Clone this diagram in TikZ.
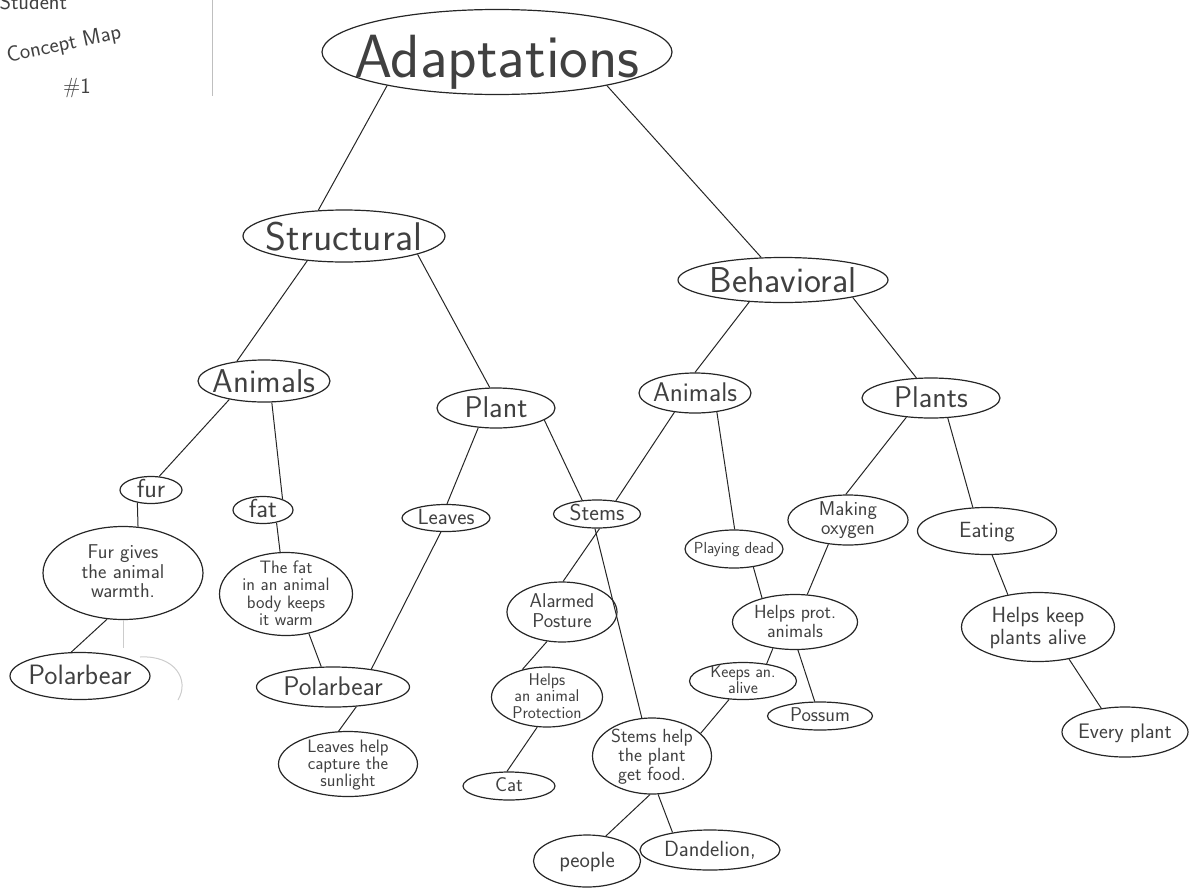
\documentclass[tikz,border=0pt]{standalone}
\usetikzlibrary{shapes.geometric}

% text sits in a zero size box, so the ellipse keeps the size given to it
\newcommand{\handtext}[1]{\makebox[0pt]{\smash{\raisebox{-0.32em}{\begin{tabular}{@{}c@{}}#1\end{tabular}}}}}
\newcommand{\handfont}[2]{\fontsize{#1}{#2}\sffamily\selectfont}

\tikzset{
  bubble/.style 2 args={ellipse, draw=black!85, line width=1.2pt, inner sep=0pt,
    minimum width=#1, minimum height=#2, text=black!75},
  link/.style={draw=black!85, line width=1pt},
}

\begin{document}
\begin{tikzpicture}[x=1pt, y=-1pt]
  \useasboundingbox (0,0) rectangle (1191,889);
  \clip (0,0) rectangle (1191,889);

  % header in the corner
  \node[anchor=base west, text=black!75, font=\handfont{22}{24}] (student) at (-4,9) {Student};
  \node[rotate=12, text=black!75, font=\handfont{22}{24}] (title) at (64,45) {Concept Map};
  \node[text=black!75, font=\handfont{22}{24}] (num) at (77,88) {\#1};
  \draw[black!25, line width=1pt] (212,0) -- (212,96);

  % top levels
  \node[bubble={350}{85}, font=\handfont{61}{63}] (adapt) at (497,52) {\handtext{Adaptations}};
  \node[bubble={202}{52}, font=\handfont{40}{42}] (struct) at (344,236) {\handtext{Structural}};
  \node[bubble={210}{45}, font=\handfont{36}{38}] (behav) at (783,280) {\handtext{Behavioral}};
  \node[bubble={132}{42}, font=\handfont{33}{35}] (sanim) at (264,381) {\handtext{Animals}};
  \node[bubble={118}{40}, font=\handfont{30}{32}] (splant) at (496,408) {\handtext{Plant}};
  \node[bubble={112}{40}, font=\handfont{27}{29}] (banim) at (695,393) {\handtext{Animals}};
  \node[bubble={138}{40}, font=\handfont{30}{32}] (bplant) at (931,398) {\handtext{Plants}};

  % third level
  \node[bubble={62}{27}, font=\handfont{26}{28}] (fur) at (151,490) {\handtext{fur}};
  \node[bubble={60}{27}, font=\handfont{26}{28}] (fat) at (263,510) {\handtext{fat}};
  \node[bubble={88}{27}, font=\handfont{22}{24}] (leaves) at (446,518) {\handtext{Leaves}};
  \node[bubble={87}{28}, font=\handfont{23}{25}] (stems) at (597,514) {\handtext{Stems}};
  \node[bubble={120}{50}, font=\handfont{20}{19}] (oxygen) at (848,520) {\handtext{Making\\oxygen}};
  \node[bubble={139}{47}, font=\handfont{22}{24}] (eating) at (987,531) {\handtext{Eating}};

  % sentences and examples
  \node[bubble={160}{93}, font=\handfont{20}{19}] (furwarm) at (123,573) {\handtext{Fur gives\\the animal\\warmth.}};
  \node[bubble={133}{83}, font=\handfont{18}{17}] (fatwarm) at (286,594) {\handtext{The fat\\in an animal\\body keeps\\it warm}};
  \node[bubble={98}{38}, font=\handfont{16}{18}] (dead) at (734,549) {\handtext{Playing dead}};
  \node[bubble={110}{60}, font=\handfont{20}{19}] (alarm) at (562,612) {\handtext{Alarmed\\Posture}};
  \node[bubble={125}{55}, font=\handfont{19}{19}] (protect) at (795,622) {\handtext{Helps prot.\\animals}};
  \node[bubble={107}{37}, font=\handfont{17}{16}] (keeps) at (743,681) {\handtext{Keeps an.\\alive}};
  \node[bubble={153}{69}, font=\handfont{22}{21}] (keepplants) at (1038,627) {\handtext{Helps keep\\plants alive}};
  \node[bubble={140}{47}, font=\handfont{28}{30}] (bear1) at (80,676) {\handtext{Polarbear}};
  \node[bubble={153}{40}, font=\handfont{27}{29}] (bear2) at (333,687) {\handtext{Polarbear}};
  \node[bubble={111}{60}, font=\handfont{17}{16}] (helpsanim) at (547,697) {\handtext{Helps\\an animal\\Protection}};
  \node[bubble={105}{28}, font=\handfont{20}{22}] (possum) at (820,716) {\handtext{Possum}};
  \node[bubble={139}{65}, font=\handfont{18}{16}] (sunlight) at (348,764) {\handtext{Leaves help\\capture the\\sunlight}};
  \node[bubble={119}{76}, font=\handfont{19}{19}] (stemfood) at (652,756) {\handtext{Stems help\\the plant\\get food.}};
  \node[bubble={126}{50}, font=\handfont{21}{23}] (every) at (1125,732) {\handtext{Every plant}};
  \node[bubble={92}{28}, font=\handfont{20}{22}] (cat) at (509,786) {\handtext{Cat}};
  \node[bubble={107}{52}, font=\handfont{22}{24}] (people) at (587,861) {\handtext{people}};
  \node[bubble={140}{40}, font=\handfont{22}{24}] (dand) at (710,850) {\handtext{Dandelion,}};

  % erased marks
  \draw[black!20, line width=1pt] (123,620) -- (123,648);
  \draw[black!20, line width=1pt] (140,657) .. controls (175,655) and (190,680) .. (178,700);

  % connectors
  \path[link] (adapt.197) -- (struct.135);
  \path[link] (adapt.343) -- (behav.134);
  \path[link] (struct.214) -- (sanim.144);
  \path[link] (struct.346) -- (splant.107);
  \path[link] (behav.213) -- (banim.90);
  \path[link] (behav.346) -- (bplant.126);
  \path[link] (sanim.208) -- (fur.59);
  \path[link] (sanim.290) -- (fat.29);
  \path[link] (splant.228) -- (leaves.86);
  \path[link] (splant.346) -- (stems.137);
  \path[link] (banim.223) -- (stems.35);
  \path[link] (banim.319) -- (dead.88);
  \path[link] (bplant.218) -- (oxygen.95);
  \path[link] (bplant.310) -- (eating.121);
  \path[link] (fur.223) -- (furwarm.72);
  \path[link] (fat.317) -- (fatwarm.98);
  \path[link] (furwarm.251) -- (bear1.110);
  \path[link] (fatwarm.300) -- (bear2.120);
  \path[link] (leaves.250) -- (bear2.25);
  \path[link] (bear2.320) -- (sunlight.106);
  \path[link] (stems.280) -- (alarm.88);
  \path[link] (stems.262) -- (stemfood.105);
  \path[link] (alarm.243) -- (helpsanim.132);
  \path[link] (helpsanim.252) -- (cat.98);
  \path[link] (stemfood.267) -- (people.53);
  \path[link] (stemfood.279) -- (dand.155);
  \path[link] (dead.317) -- (protect.144);
  \path[link] (oxygen.231) -- (protect.66);
  \path[link] (protect.230) -- (keeps.36);
  \path[link] (protect.276) -- (possum.110);
  \path[link] (keeps.233) -- (stemfood.25);
  \path[link] (eating.282) -- (keepplants.133);
  \path[link] (keepplants.314) -- (every.135);
\end{tikzpicture}
\end{document}
